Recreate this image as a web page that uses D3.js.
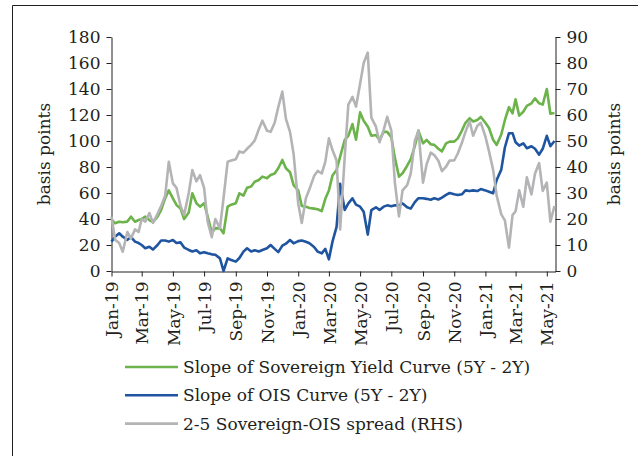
<!DOCTYPE html>
<meta charset="utf-8">
<style>
body { margin: 0; background: #fff; }
svg { display: block; }
.axis text { font: 17px "DejaVu Serif", serif; fill: #231f20; }
.axis path, .axis line { stroke: #231f20; stroke-width: 1; }
.lbl { font: 17px "DejaVu Serif", serif; fill: #231f20; }
.legend text { font: 17px "DejaVu Serif", serif; fill: #231f20; }
</style>
<svg width="638" height="456"></svg>
<script src="https://d3js.org/d3.v7.min.js"></script>
<script>

// weekly readings, Jan 2019 - May 2021
var dates = [
  "2019-01-01","2019-01-08","2019-01-16","2019-01-23","2019-02-01","2019-02-08","2019-02-16","2019-02-23",
  "2019-03-01","2019-03-08","2019-03-16","2019-03-23","2019-04-01","2019-04-08","2019-04-16","2019-04-23",
  "2019-05-01","2019-05-08","2019-05-16","2019-05-23","2019-06-01","2019-06-08","2019-06-16","2019-06-23",
  "2019-07-01","2019-07-08","2019-07-16","2019-07-23","2019-08-01","2019-08-08","2019-08-16","2019-08-23",
  "2019-09-01","2019-09-08","2019-09-16","2019-09-23","2019-10-01","2019-10-08","2019-10-16","2019-10-23",
  "2019-11-01","2019-11-08","2019-11-16","2019-11-23","2019-12-01","2019-12-08","2019-12-16","2019-12-23",
  "2020-01-01","2020-01-08","2020-01-16","2020-01-23","2020-02-01","2020-02-08","2020-02-16","2020-02-23",
  "2020-03-01","2020-03-08","2020-03-16","2020-03-23","2020-04-01","2020-04-08","2020-04-16","2020-04-23",
  "2020-05-01","2020-05-08","2020-05-16","2020-05-23","2020-06-01","2020-06-08","2020-06-16","2020-06-23",
  "2020-07-01","2020-07-08","2020-07-16","2020-07-23","2020-08-01","2020-08-08","2020-08-16","2020-08-23",
  "2020-09-01","2020-09-08","2020-09-16","2020-09-23","2020-10-01","2020-10-08","2020-10-16","2020-10-23",
  "2020-11-01","2020-11-08","2020-11-16","2020-11-23","2020-12-01","2020-12-08","2020-12-16","2020-12-23",
  "2021-01-01","2021-01-08","2021-01-16","2021-01-23","2021-02-01","2021-02-08","2021-02-16","2021-02-23",
  "2021-03-01","2021-03-08","2021-03-16","2021-03-23","2021-04-01","2021-04-08","2021-04-16","2021-04-23",
  "2021-05-01","2021-05-08","2021-05-16"
];

// Slope of Sovereign Yield Curve (5Y - 2Y), bps, left axis
var sovSlope = [
  39.8,36.7,37.9,37.5, 38,41.8,37.9,39.2, 40,41.8,39.2,37.5, 41.8,46.9,56,62,
  55.9,50.8,48,40, 45,59.8,52.1,49.5, 52.1,42,29.5,33, 32.8,29,49.5,51,
  52.1,59.8,58,64, 65,68.7,70,72.6, 71.3,73.8,75,79, 85.4,79,76,66,
  62,50,49.5,48.5, 48,47.5,46,55.5, 62,73.5,77.7,88, 100.8,104,113,101,
  122,115.5,111,104, 104.6,100.8,107,107, 103,87,72.6,75.2, 81,86,96,108,
  98.2,100.8,97.5,97, 94,92,98.2,99.5, 99.5,102,108,114, 117.5,115,116.2,118.5,
  114,110,101,97, 105,116,126,121.3, 132,119.5,122.5,127, 129,132.8,129,128,
  140,121,121.5
];

// Slope of OIS Curve (5Y - 2Y), bps, left axis
var oisSlope = [
  22.6,26.4,29,26.4, 24,26,22.6,21.5, 20,17.5,18.7,16.5, 20,23.5,23.5,22.6,
  23.8,21.5,22,18, 16.2,15,16,13.6, 14.5,13.6,12.8,12.5, 9.7,0,9.7,8.5,
  7.2,10,14.9,17.5, 15,16,15,16.2, 17.5,20,17,14.5, 19.5,21,23.8,21.3,
  23,23.5,22.5,21.3, 18.5,14.9,13.6,17, 9,22.6,34,67, 47,52,55.9,51,
  49.5,45.6,28,46.9, 49,47,49.5,50.5, 49.8,50.5,50.5,52, 49,48,53,56,
  56,55.5,54.8,55.9, 55,56.5,58.5,60, 59,58.5,59,62, 61.5,62,61.5,63,
  62,61,59.8,70, 78,95,106,106, 99,96.5,98.2,94.4, 96,94,89.5,94,
  104,96,100
];

// 2-5 Sovereign-OIS spread, bps, right axis
var spread = [
  20.9,12,10.8,7.4, 15,12.5,16,15, 20,19,22.3,18.5, 22,25,29,42,
  33.7,32,25,21.5, 30,38.8,34.5,36.9, 32,19,13,20, 16.5,28,42,42.5,
  43,46,45.5,47, 48.5,50.2,54.5,57.8, 54,53.5,57,63, 69,58.5,53.5,45,
  26,18.5,28,31.5, 36.5,38.5,37.5,42, 51,46.5,42.5,16, 44,64,67,63.2,
  72,80,84,59, 55.5,49.5,54.2,59.3, 54,34,21,31, 33,37.5,50,54,
  34,41,45.5,44.6, 42.4,38.4,40.1,42.5, 42.5,45.2,49.3,53.5, 57.6,52,55.8,57,
  51.7,46,39,29, 21.8,19.5,9,21.5, 23,31,24.7,36, 29.5,37.5,41.5,30.8,
  34,19,25
];

var tickMonths = ["2019-01-01","2019-03-01","2019-05-01","2019-07-01","2019-09-01","2019-11-01",
  "2020-01-01","2020-03-01","2020-05-01","2020-07-01","2020-09-01","2020-11-01",
  "2021-01-01","2021-03-01","2021-05-01"];
var leftTicks = [0,20,40,60,80,100,120,140,160,180];
var rightTicks = [0,10,20,30,40,50,60,70,80,90];

var seriesNames = ["Slope of Sovereign Yield Curve (5Y - 2Y)", "Slope of OIS Curve (5Y - 2Y)", "2-5 Sovereign-OIS spread (RHS)"];
var seriesColors = ["#6db34b", "#1f55a0", "#b4b4b7"];

var parse = d3.timeParse("%Y-%m-%d");
var svg = d3.select("svg");

// frame
svg.append("path")
  .attr("d", "M12.5,456V5.5H638")
  .attr("fill", "none").attr("stroke", "#231f20").attr("stroke-width", 1);

var x = d3.scaleTime()
  .domain([parse("2019-01-01"), parse("2021-05-18")])
  .range([111.5, 555.5]);
var yL = d3.scaleLinear().domain([0, 180]).range([271, 37]);
var yR = d3.scaleLinear().domain([0, 90]).range([271, 37]);

svg.append("g").attr("class", "axis")
  .attr("transform", "translate(111.5,0)")
  .call(d3.axisLeft(yL).tickValues(leftTicks).tickSize(5).tickSizeOuter(0).tickPadding(6));

svg.append("g").attr("class", "axis")
  .attr("transform", "translate(555.5,0)")
  .call(d3.axisRight(yR).tickValues(rightTicks).tickSize(5).tickSizeOuter(0).tickPadding(6));

var xAxis = svg.append("g").attr("class", "axis")
  .attr("transform", "translate(0,271.5)")
  .call(d3.axisBottom(x).tickValues(tickMonths.map(parse)).tickFormat(d3.timeFormat("%b-%y"))
    .tickSize(5).tickSizeOuter(0));
xAxis.selectAll("text")
  .attr("text-anchor", "end")
  .attr("transform", "rotate(-90)")
  .attr("x", -10).attr("y", 0).attr("dy", "0.36em");

svg.append("text").attr("class", "lbl")
  .attr("transform", "translate(50,154) rotate(-90)")
  .attr("text-anchor", "middle").text("basis points");
svg.append("text").attr("class", "lbl")
  .attr("transform", "translate(608,154) rotate(-90)")
  .attr("text-anchor", "middle").attr("dy", "0.7em").text("basis points");

var rows = dates.map(function(d, i) {
  return { date: parse(d), sov: sovSlope[i], ois: oisSlope[i], spr: spread[i] };
});

var lineSov = d3.line().x(function(d) { return x(d.date); }).y(function(d) { return yL(d.sov); });
var lineOis = d3.line().x(function(d) { return x(d.date); }).y(function(d) { return yL(d.ois); });
var lineSpr = d3.line().x(function(d) { return x(d.date); }).y(function(d) { return yR(d.spr); });

[lineSov, lineOis, lineSpr].forEach(function(ln, i) {
  svg.append("path").datum(rows)
    .attr("fill", "none")
    .attr("stroke", seriesColors[i])
    .attr("stroke-width", 2.6)
    .attr("stroke-linejoin", "round")
    .attr("d", ln);
});

var legend = svg.append("g").attr("class", "legend");
seriesNames.forEach(function(name, i) {
  var yy = 367 + i * 28.3;
  legend.append("line")
    .attr("x1", 125).attr("x2", 178).attr("y1", yy).attr("y2", yy)
    .attr("stroke", seriesColors[i]).attr("stroke-width", 2.6);
  legend.append("text").attr("x", 183).attr("y", yy).attr("dy", "0.36em").text(name);
});

</script>
